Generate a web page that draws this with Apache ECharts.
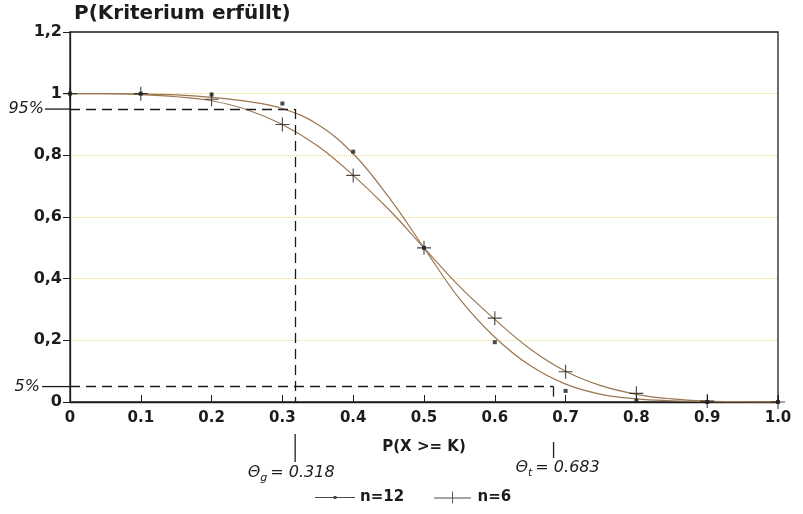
<!DOCTYPE html>
<html>
<head>
<meta charset="utf-8">
<script src="https://cdn.jsdelivr.net/npm/echarts/dist/echarts.min.js"></script>
<style>
  html, body { margin: 0; padding: 0; background: #fff; }
  #chart { width: 803px; height: 514px; }
</style>
</head>
<body>
<div id="chart"></div>
<script>
// x-Werte der Kurven und Messpunkte
const curveX = [0, 0.05, 0.1, 0.15, 0.2, 0.25, 0.3, 0.35, 0.4, 0.45, 0.5,
                0.55, 0.6, 0.65, 0.7, 0.75, 0.8, 0.85, 0.9, 0.95, 1];
const curveN12 = [1, 1, 0.999, 0.996, 0.988, 0.975, 0.952, 0.9, 0.805, 0.665, 0.5,
                  0.335, 0.21, 0.118, 0.058, 0.025, 0.01, 0.004, 0.001, 0, 0];
const curveN6 = [1, 1, 0.997, 0.99, 0.977, 0.948, 0.9, 0.83, 0.735, 0.625, 0.5,
                 0.375, 0.268, 0.172, 0.1, 0.053, 0.025, 0.01, 0.003, 0.001, 0];

const pointX = [0, 0.1, 0.2, 0.3, 0.4, 0.5, 0.6, 0.7, 0.8, 0.9, 1];
const pointN12 = [1, 1, 0.997, 0.968, 0.812, 0.5, 0.194, 0.036, 0.004, 0, 0];
const pointN6 = [1, 1, 0.982, 0.9, 0.735, 0.5, 0.272, 0.098, 0.028, 0.003, 0];

// Schwellen
const thetaG = 0.318;
const thetaT = 0.683;
const upperLevel = 0.95;
const lowerLevel = 0.05;

const FONT = '"DejaVu Sans", sans-serif';
const HAND = '"DejaVu Sans", sans-serif';
const INK = '#1c1c1c';
const CURVE = '#9a7752';
const PLUS = 'path://M4.6,0h0.8v10h-0.8z M0,4.6h10v0.8h-10z';

const zip = (xs, ys) => xs.map((x, i) => [x, ys[i]]);

const chart = echarts.init(document.getElementById('chart'));

const option = {
  backgroundColor: '#fff',
  animation: false,
  grid: {
    left: 70,
    right: 25,
    top: 32,
    bottom: 112,
    show: true,
    borderColor: INK,
    borderWidth: 1.3
  },
  legend: {
    bottom: 4,
    left: 310,
    itemGap: 30,
    itemWidth: 40,
    itemHeight: 12,
    textStyle: { color: INK, fontSize: 15, fontWeight: 'bold', fontFamily: FONT },
    data: [
      { name: 'n=12', icon: 'path://M0,9.5h40v1h-40z M18.5,8.5h3v3h-3z' },
      { name: 'n=6', icon: 'path://M0,9.5h40v1h-40z M19.5,3h1v13h-1z' }
    ]
  },
  xAxis: {
    type: 'value',
    min: 0,
    max: 1,
    interval: 0.1,
    name: 'P(X >= K)',
    nameLocation: 'middle',
    nameGap: 38,
    nameTextStyle: { color: INK, fontSize: 15, fontWeight: 'bold', fontFamily: FONT },
    axisLine: { lineStyle: { color: INK, width: 1.3 } },
    axisTick: { inside: true, length: 7, lineStyle: { color: INK } },
    axisLabel: {
      color: INK,
      fontSize: 15,
      fontWeight: 'bold',
      fontFamily: FONT,
      margin: 9,
      formatter: v => (v === 0 ? '0' : v.toFixed(1))
    },
    splitLine: { show: false }
  },
  yAxis: {
    type: 'value',
    min: 0,
    max: 1.2,
    interval: 0.2,
    name: 'P(Kriterium erfüllt)',
    nameLocation: 'end',
    nameGap: 8,
    nameTextStyle: {
      color: INK, fontSize: 20, fontWeight: 'bold', fontFamily: FONT,
      align: 'left', padding: [0, 0, 0, 4]
    },
    axisLine: { show: true, lineStyle: { color: INK, width: 1.3 } },
    axisTick: { show: true, length: 7, lineStyle: { color: INK } },
    axisLabel: {
      color: INK,
      fontSize: 16,
      fontWeight: 'bold',
      fontFamily: FONT,
      margin: 8,
      formatter: v => {
        if (v === 0) return '0';
        if (Math.abs(v - 1) < 1e-9) return '1';
        return v.toFixed(1).replace('.', ',');
      }
    },
    splitLine: {
      show: true,
      showMinLine: false,
      showMaxLine: false,
      lineStyle: { color: '#e2d9a8', type: 'dotted', width: 1 }
    }
  },
  series: [
    {
      name: 'Kurve n=12',
      type: 'line',
      data: zip(curveX, curveN12),
      smooth: 0.4,
      showSymbol: false,
      lineStyle: { color: CURVE, width: 1.2 },
      z: 2,
      markLine: {
        silent: true,
        symbol: ['none', 'none'],
        label: { show: false },
        lineStyle: { color: INK, type: [10, 6], width: 1.3 },
        data: [
          [{ coord: [0, upperLevel] }, { coord: [thetaG, upperLevel] }],
          [{ coord: [thetaG, upperLevel] }, { coord: [thetaG, 0] }],
          [{ coord: [0, lowerLevel] }, { coord: [thetaT, lowerLevel] }],
          [{ coord: [thetaT, lowerLevel] }, { coord: [thetaT, 0] }]
        ]
      }
    },
    {
      name: 'Kurve n=6',
      type: 'line',
      data: zip(curveX, curveN6),
      smooth: 0.4,
      showSymbol: false,
      lineStyle: { color: CURVE, width: 1.2 },
      z: 2
    },
    {
      name: 'n=12',
      type: 'scatter',
      data: zip(pointX, pointN12),
      symbol: 'rect',
      symbolSize: 4,
      itemStyle: { color: INK },
      z: 3
    },
    {
      name: 'n=6',
      type: 'scatter',
      data: zip(pointX, pointN6),
      symbol: PLUS,
      symbolSize: 14,
      itemStyle: { color: INK },
      z: 3
    }
  ]
};

chart.setOption(option);

// Beschriftungen außerhalb der Zeichenfläche, Positionen über die Achsen umgerechnet
const toPx = (x, y) => chart.convertToPixel({ gridIndex: 0 }, [x, y]);
const [axisX, y95] = toPx(0, upperLevel);
const [, y05] = toPx(0, lowerLevel);
const [xg, yBottom] = toPx(thetaG, 0);
const [xt] = toPx(thetaT, 0);

const handStyle = (text, align) => ({
  text: text,
  align: align,
  verticalAlign: 'middle',
  fill: INK,
  fontSize: 16,
  fontStyle: 'italic',
  fontFamily: HAND
});

const thetaText = (sub, val) => ({
  text: '{a|Θ}{b|' + sub + '}{a|= ' + val + '}',
  align: 'center',
  verticalAlign: 'middle',
  fill: INK,
  rich: {
    a: { fontSize: 16, fontStyle: 'italic', fontFamily: HAND, fill: INK, lineHeight: 22 },
    b: { fontSize: 11, fontStyle: 'italic', fontFamily: HAND, fill: INK, lineHeight: 12, padding: [10, 3, 0, 0] }
  }
});

chart.setOption({
  graphic: [
    { type: 'line', shape: { x1: axisX - 25, y1: y95, x2: axisX, y2: y95 }, style: { stroke: INK, lineWidth: 1.3 } },
    { type: 'text', x: axisX - 26, y: y95, style: handStyle('95%', 'right') },
    { type: 'line', shape: { x1: axisX - 28, y1: y05, x2: axisX, y2: y05 }, style: { stroke: INK, lineWidth: 1.3 } },
    { type: 'text', x: axisX - 30, y: y05, style: handStyle('5%', 'right') },
    { type: 'line', shape: { x1: xg, y1: yBottom + 32, x2: xg, y2: yBottom + 60 }, style: { stroke: INK, lineWidth: 1.3 } },
    { type: 'line', shape: { x1: xt, y1: yBottom + 40, x2: xt, y2: yBottom + 56 }, style: { stroke: INK, lineWidth: 1.3 } },
    { type: 'text', x: xg - 4, y: yBottom + 71, style: thetaText('g', thetaG.toFixed(3)) },
    { type: 'text', x: xt + 4, y: yBottom + 66, style: thetaText('t', thetaT.toFixed(3)) }
  ]
});

window.addEventListener('resize', () => {
  chart && chart.resize();
});
</script>
</body>
</html>
